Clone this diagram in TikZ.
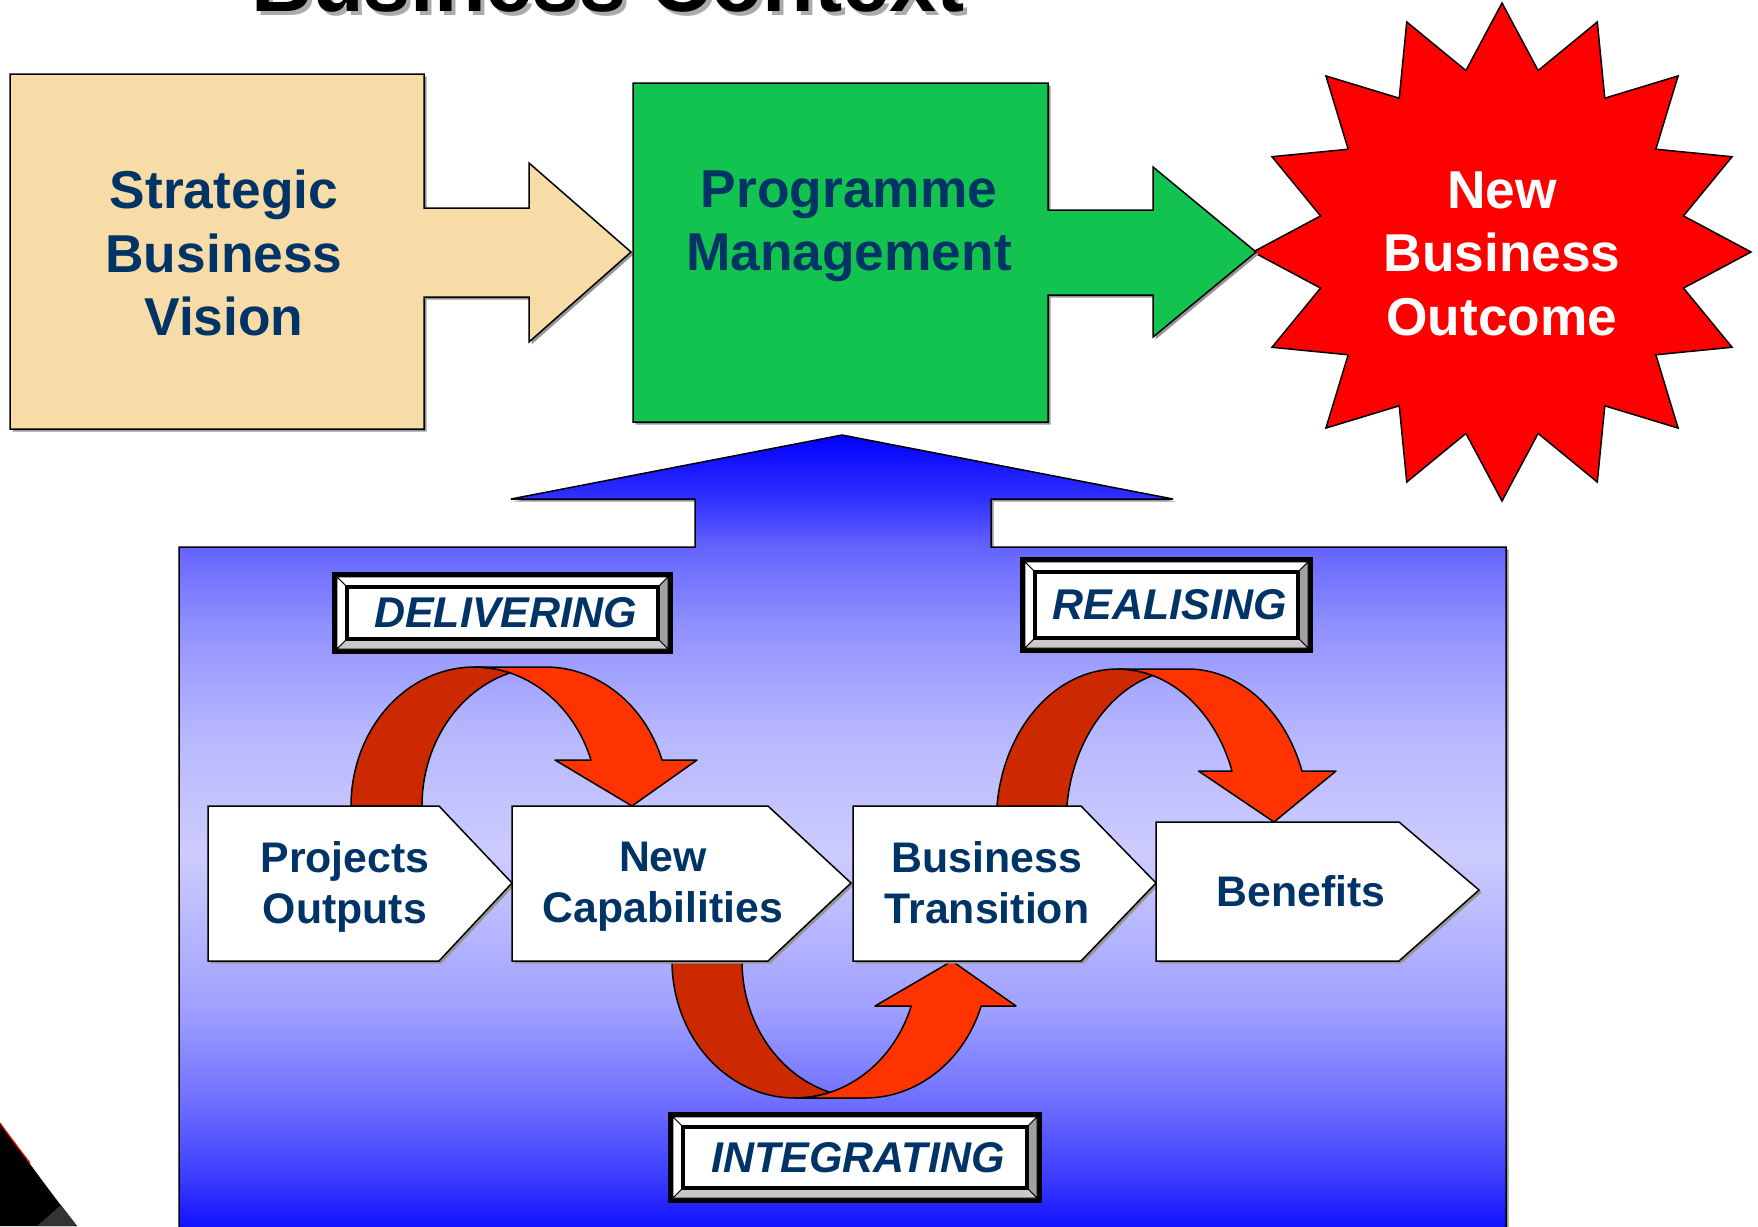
\documentclass[tikz,border=0pt]{standalone}
\usepackage{fontspec}
\setmainfont{Liberation Sans}
\definecolor{navy}{RGB}{0,51,102}
\definecolor{tanc}{RGB}{248,220,167}
\definecolor{greenc}{RGB}{19,195,79}
\definecolor{darkred}{RGB}{204,41,0}
\definecolor{brightred}{RGB}{255,51,0}
\definecolor{bevR}{RGB}{160,160,160}
\definecolor{bevB}{RGB}{200,200,200}
\definecolor{shadowc}{RGB}{150,150,150}
\definecolor{gA}{RGB}{0,0,255}
\definecolor{gB}{RGB}{48,48,255}
\definecolor{gC}{RGB}{100,100,255}
\definecolor{gD}{RGB}{145,145,255}
\definecolor{gE}{RGB}{182,182,255}
\definecolor{gF}{RGB}{204,204,255}
\definecolor{gG}{RGB}{160,160,255}
\definecolor{gH}{RGB}{112,112,255}
\definecolor{gI}{RGB}{60,60,255}
\definecolor{gJ}{RGB}{18,18,255}
\definecolor{gK}{RGB}{10,10,255}
\pgfdeclareverticalshading{bluegrad}{100bp}{color(0bp)=(gK); color(25bp)=(gK); color(25.87bp)=(gJ);
  color(28.91bp)=(gI); color(33.76bp)=(gH); color(39.35bp)=(gG); color(49.1bp)=(gF);
  color(56.74bp)=(gE); color(63.01bp)=(gD); color(68.04bp)=(gC); color(71.09bp)=(gB);
  color(75bp)=(gA); color(100bp)=(gA)}
\newcommand\bevframe[6]{%
  \fill[black] (#2,#3) rectangle (#4,#5);
  \pgfmathsetmacro\bfax{#2+5}\pgfmathsetmacro\bfay{#3+5}%
  \pgfmathsetmacro\bfbx{#4-5}\pgfmathsetmacro\bfby{#5-5}%
  \pgfmathsetmacro\bfcx{#2+15}\pgfmathsetmacro\bfcy{#3+15}%
  \pgfmathsetmacro\bfdx{#4-15}\pgfmathsetmacro\bfdy{#5-15}%
  \filldraw[bevline, fill=white] (\bfax,\bfay) -- (\bfbx,\bfay) -- (\bfdx,\bfcy) -- (\bfcx,\bfcy) -- cycle;
  \filldraw[bevline, fill=white] (\bfax,\bfay) -- (\bfcx,\bfcy) -- (\bfcx,\bfdy) -- (\bfax,\bfby) -- cycle;
  \filldraw[bevline, fill=bevR] (\bfbx,\bfay) -- (\bfbx,\bfby) -- (\bfdx,\bfdy) -- (\bfdx,\bfcy) -- cycle;
  \filldraw[bevline, fill=bevB] (\bfax,\bfby) -- (\bfbx,\bfby) -- (\bfdx,\bfdy) -- (\bfcx,\bfdy) -- cycle;
  \draw[line width=4, fill=white] (\bfcx,\bfcy) rectangle (\bfdx,\bfdy);
  \node[labeltext] (#1) at ({(#2+#4)/2+3},{(#3+#5)/2}) {#6};
}
\begin{document}
\begin{tikzpicture}[x=1pt,y=-1pt,
  outline/.style={draw=black, line width=1.5},
  shadowfill/.style={fill=shadowc, shift={(2.5,2.5)}},
  bevline/.style={draw=black, line width=0.8},
  maintext/.style={font=\fontsize{53.3}{63.5}\selectfont\bfseries, text=navy, align=center, inner sep=0},
  chevtext/.style={font=\fontsize{42.8}{51}\selectfont\bfseries, text=navy, align=center, inner sep=0},
  labeltext/.style={font=\fontsize{43}{50}\selectfont\bfseries\itshape, text=navy, inner sep=0},
  titletext/.style={font=\fontsize{84.5}{100}\selectfont\bfseries, inner sep=0, anchor=base},
  backband/.style={fill=darkred, draw=black, line width=1.5, line join=round},
  frontband/.style={fill=brightred, draw=black, line width=1.5, line join=round},
  chevron/.style={fill=white, draw=black, line width=1.5}
]
\useasboundingbox (0,0) rectangle (1758,1226);
\fill[white] (0,0) rectangle (1758,1226);

% ---------- blue base with up arrow ----------
\fill[shadowfill] (179,1240) -- (179,547) -- (695,547) -- (695,499) -- (511,499) -- (842,435)
  -- (1173,499) -- (991,499) -- (991,547) -- (1506,547) -- (1506,1240) -- cycle;
\draw[outline, shading=bluegrad]
  (179,1240) -- (179,547) -- (695,547) -- (695,499) -- (511,499) -- (842,435)
  -- (1173,499) -- (991,499) -- (991,547) -- (1506,547) -- (1506,1240) -- cycle;

% ---------- tan box with arrow ----------
\fill[shadowfill] (10,74) -- (424,74) -- (424,208) -- (529,208) -- (529,163) -- (631,252)
  -- (529,342) -- (529,297) -- (424,297) -- (424,429) -- (10,429) -- cycle;
\draw[outline, fill=tanc] (10,74) -- (424,74) -- (424,208) -- (529,208) -- (529,163) -- (631,252)
  -- (529,342) -- (529,297) -- (424,297) -- (424,429) -- (10,429) -- cycle;

% ---------- star ----------
\draw[outline, fill=red, line join=miter, shift={(1502,252)}] (0:249)
  \foreach \i in {1,...,31}{ -- ({\i*11.25}:{ifthenelse(mod(\i,2)==0,249,185)}) } -- cycle;

% ---------- green box with arrow ----------
\fill[shadowfill] (633,83) -- (1048,83) -- (1048,210) -- (1153,210) -- (1153,167) -- (1256,252)
  -- (1153,337) -- (1153,295) -- (1048,295) -- (1048,422) -- (633,422) -- cycle;
\draw[outline, fill=greenc] (633,83) -- (1048,83) -- (1048,210) -- (1153,210) -- (1153,167) -- (1256,252)
  -- (1153,337) -- (1153,295) -- (1048,295) -- (1048,422) -- (633,422) -- cycle;

\node[maintext] (sbv) at (224,253) {Strategic\\Business\\Vision};
\node[maintext] (pm) at (849,226.5) {Programme\\Management};
\node[maintext, text=white] (nbo) at (1502,253.5) {New\\Business\\Outcome};

% ---------- curved arrow 1 (delivering) ----------
\draw[backband] (351,806) arc[start angle=180, end angle=286.7, x radius=123.5, y radius=139]
  arc[start angle=253.3, end angle=180, x radius=123.5, y radius=139] -- cycle;
\draw[frontband] (474.5,667) -- (545.5,667)
  arc[start angle=270, end angle=340.67, x radius=123.5, y radius=139]
  -- (697,760) -- (632,806) -- (555,760) -- (591,760)
  arc[start angle=340.67, end angle=270, x radius=123.5, y radius=139] -- cycle;

% ---------- curved arrow 2 (realising) ----------
\draw[backband] (996.3,822) arc[start angle=180, end angle=286.77, x radius=121.3, y radius=153]
  arc[start angle=253.23, end angle=180, x radius=121.3, y radius=153] -- cycle;
\draw[frontband] (1117.6,669) -- (1187.6,669)
  arc[start angle=270, end angle=340.53, x radius=121.3, y radius=153]
  -- (1336,771) -- (1274,822) -- (1198.5,771) -- (1232,771)
  arc[start angle=340.53, end angle=270, x radius=121.3, y radius=153] -- cycle;

% ---------- curved arrow 3 (integrating) ----------
\draw[backband] (672,961) arc[start angle=180, end angle=73.47, x radius=123, y radius=137]
  arc[start angle=106.53, end angle=180, x radius=123, y radius=137] -- cycle;
\draw[frontband] (795,1098) -- (865,1098)
  arc[start angle=90, end angle=19.18, x radius=123, y radius=137]
  -- (1016,1006) -- (952,961) -- (875,1006) -- (911.2,1006)
  arc[start angle=19.18, end angle=90, x radius=123, y radius=137] -- cycle;

% ---------- chevrons ----------
\fill[shadowfill] (208,806) -- (439,806) -- (512,883) -- (439,961) -- (208,961) -- cycle;
\draw[chevron] (208,806) -- (439,806) -- (512,883) -- (439,961) -- (208,961) -- cycle;
\fill[shadowfill] (512,806) -- (768,806) -- (851,883) -- (768,961) -- (512,961) -- cycle;
\draw[chevron] (512,806) -- (768,806) -- (851,883) -- (768,961) -- (512,961) -- cycle;
\fill[shadowfill] (853,806) -- (1081,806) -- (1156,883) -- (1081,961) -- (853,961) -- cycle;
\draw[chevron] (853,806) -- (1081,806) -- (1156,883) -- (1081,961) -- (853,961) -- cycle;
\fill[shadowfill] (1156,822) -- (1399,822) -- (1479,890) -- (1399,961) -- (1156,961) -- cycle;
\draw[chevron] (1156,822) -- (1399,822) -- (1479,890) -- (1399,961) -- (1156,961) -- cycle;

\node[chevtext] (po) at (345,887) {Projects\\Outputs};
\node[chevtext] (nc) at (663,887) {New\\Capabilities};
\node[chevtext] (bt) at (987,883) {Business\\Transition};
\node[chevtext] (bf) at (1301,891.5) {Benefits};

% ---------- bevelled labels ----------
\bevframe{deliv}{332}{572}{673}{654}{DELIVERING}
\bevframe{real}{1020}{557}{1313}{653}{REALISING}
\bevframe{integ}{668}{1112}{1042}{1203}{INTEGRATING}

% ---------- bottom-left slide decoration ----------
\fill[black] (0,1123) .. controls (25,1157) and (50,1192) .. (77,1226) -- (0,1226) -- cycle;
\fill[black!80] (37,1226) -- (61,1205) -- (77,1226) -- cycle;
\draw[red, line width=1.2] (0,1123) .. controls (10,1137) and (20,1150) .. (30,1163);

% ---------- title (cut off at the top) ----------
\node[titletext, text=shadowc!80] (titlesh) at (612,15) {Business Context};
\node[titletext, text=black] (title) at (608,12) {Business Context};
\end{tikzpicture}
\end{document}
